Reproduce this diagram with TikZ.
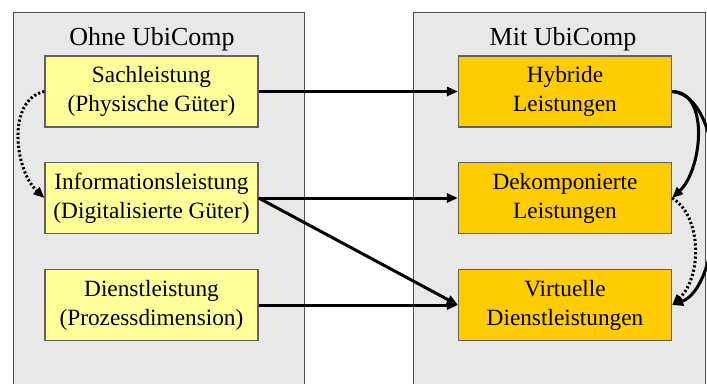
\documentclass[tikz,border=0pt]{standalone}
\usepackage{fontspec}
\setmainfont{Liberation Serif}
\usetikzlibrary{arrows.meta}
\definecolor{panelfill}{HTML}{E8E8E8}
\definecolor{paneldraw}{HTML}{505050}
\definecolor{lfill}{HTML}{FFFF99}
\definecolor{rfill}{HTML}{FFCC00}
\definecolor{boxdraw}{HTML}{606060}
\tikzset{
  panel/.style={draw=paneldraw, fill=panelfill, line width=1.2pt, inner sep=0pt, anchor=north west},
  ptitle/.style={font=\fontsize{26}{30}\selectfont, inner sep=0pt},
  lbox/.style={draw=boxdraw, fill=lfill, line width=1.2pt, minimum width=213pt, minimum height=71pt, inner sep=0pt, align=center, font=\fontsize{23.3}{29}\selectfont},
  rbox/.style={lbox, fill=rfill},
  conn/.style={line width=3pt, -{Triangle[length=11pt,width=9pt]}},
  dotconn/.style={conn, dash pattern=on 2.2pt off 2.2pt}
}
\begin{document}
\begin{tikzpicture}[x=1pt,y=-1pt]
\useasboundingbox (0,0) rectangle (707,383);
\clip (0,0) rectangle (707,383);
\fill[white] (0,0) rectangle (707,383);
\node[panel, minimum width=291pt, minimum height=400pt] (lp) at (13,12) {};
\node[panel, minimum width=292pt, minimum height=400pt] (rp) at (413,12) {};
\node[ptitle] (lt) at (152,39) {Ohne UbiComp};
\node[ptitle] (rt) at (563,39) {Mit UbiComp};
\node[lbox] (s) at (151.5,91.5) {Sachleistung\\(Physische Güter)};
\node[lbox] (i) at (151.5,198) {Informationsleistung\\(Digitalisierte Güter)};
\node[lbox] (dl) at (151.5,305) {Dienstleistung\\(Prozessdimension)};
\node[rbox] (h) at (565,91.5) {Hybride\\Leistungen};
\node[rbox] (d) at (565,198) {Dekomponierte\\Leistungen};
\node[rbox] (v) at (565,305) {Virtuelle\\Dienstleistungen};
\draw[conn] (s.east) -- (h.west);
\draw[conn] (i.east) -- (d.west);
\draw[conn] (i.east) -- (v.west);
\draw[conn] (dl.east) -- (v.west);
\draw[dotconn] (s.west) .. controls +(-38,8) and +(-30,-28) .. (i.west);
\draw[conn] (h.east) .. controls +(38,0) and +(30,-28) .. (d.east);
\draw[conn] (h.east) .. controls +(60,5) and +(55,-20) .. (v.east);
\draw[dotconn] (d.east) .. controls +(30,18) and +(30,-28) .. (v.east);
\end{tikzpicture}
\end{document}
